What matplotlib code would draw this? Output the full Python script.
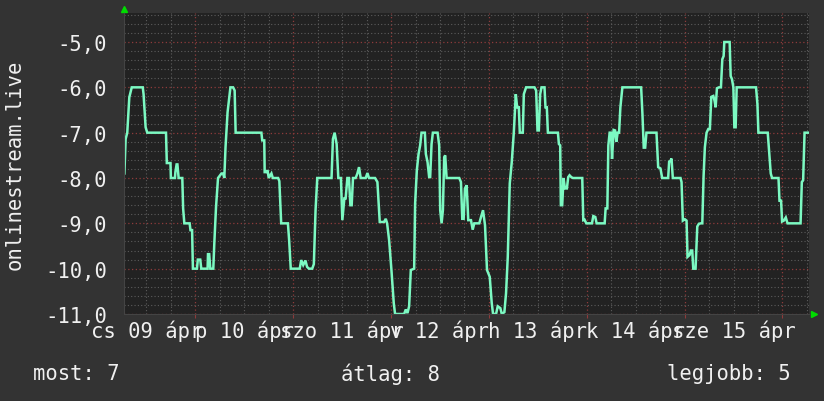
import matplotlib
matplotlib.use("Agg")
import matplotlib.pyplot as plt
from matplotlib.ticker import MultipleLocator
import matplotlib.transforms as mtransforms

# idő: órák 04.09 00:00 óta, érték
hours = [
    6.6, 6.9, 7.3, 7.8, 8.4, 11.1, 11.3, 11.8, 12.2, 16.8, 17.0, 17.9, 18.0, 19.0,
    19.1, 19.4, 19.6, 19.9, 20.8, 21.0, 21.3, 22.6, 22.8, 23.2, 23.4, 24.4, 24.6,
    25.2, 25.45, 27.0, 27.1, 27.4, 27.66, 28.4, 28.65, 29.07, 29.56, 30.4, 30.8,
    31.1, 31.4, 31.9, 32.6, 33.25, 33.64, 33.88,
    40.2, 40.4, 40.9, 41.0, 41.4, 41.7, 42.0, 42.66, 43.0, 44.3, 44.6, 45.05, 46.7,
    47.0, 47.4, 49.6, 49.96, 50.45, 51.0, 51.4, 51.84, 52.66, 53.06, 53.48, 53.9,
    57.4, 57.74, 58.16, 58.65, 59.06, 59.7, 60.05, 60.54, 60.86, 61.28, 61.67,
    62.02, 62.34, 62.66, 63.32, 63.74, 64.14, 64.55, 65.78, 66.2, 66.59, 68.07,
    68.65, 69.22, 70.28, 70.7, 71.03, 71.52, 72.09, 72.66, 72.98,
    75.2, 75.61, 76.03, 76.43, 76.84, 77.66, 77.9, 78.32, 78.74, 79.13, 79.47,
    80.29, 80.53, 80.95, 81.34, 81.59, 81.93, 82.25, 83.41, 83.8, 84.05, 84.39,
    84.71, 85.03, 85.28, 85.62, 88.72, 89.14, 89.46, 89.8, 90.12, 90.54, 90.93,
    91.6, 92.02, 92.41, 93.64, 94.06, 94.55, 95.04, 95.53, 96.2, 96.69, 97.01,
    97.75, 98.16, 98.8, 99.15, 99.79, 100.2, 100.62, 101.11, 101.6, 102.1, 102.59,
    102.91, 103.33, 103.57, 104.31, 104.56, 105.12,
    107.17, 107.58, 107.91, 108.24, 108.57, 108.9, 109.63, 109.87, 110.2, 110.46,
    112.92, 113.16, 113.48, 113.64, 113.97, 114.3, 114.63, 115.12, 115.45, 115.77,
    116.19, 116.6, 118.89, 119.14, 119.46, 119.88, 121.27, 121.6, 122.09, 122.41,
    124.38, 124.62, 125.04, 125.29, 125.61, 125.95, 126.19, 126.59, 126.93, 127.25,
    127.57, 127.92, 128.24, 128.73, 133.33, 133.65, 133.97, 134.32, 134.63, 137.09,
    137.51, 138.07, 138.49,
    139.96, 140.2, 140.53, 140.78, 141.1, 142.99, 143.24, 143.56, 144.05, 144.47,
    144.71, 145.2, 145.52, 145.86, 146.11, 146.68, 147.1, 147.49, 147.98, 148.33,
    148.65, 148.96, 149.38, 149.8, 150.19, 150.54, 151.03, 151.35, 151.6, 151.92,
    152.41, 152.9, 153.24, 153.56, 153.73, 155.04, 155.29, 155.61, 155.95, 156.19,
    156.51, 156.76, 161.51, 161.85, 162.09, 164.38, 164.7, 165.12, 165.44, 167.02,
    167.26, 167.65, 167.9, 168.32, 168.81, 169.23, 172.43, 172.74, 173.06, 173.41,
    174.54,
]
values = [
    -7.9, -7.14, -7.0, -6.22, -6.0, -6.0, -6.15, -6.88, -7.0, -7.0, -7.67, -7.67, -8.0, -8.0,
    -7.87, -7.7, -7.7, -8.0, -8.0, -8.67, -9.0, -9.0, -9.15, -9.15, -10.0, -10.0, -9.8,
    -9.8, -10.0, -10.0, -9.68, -9.68, -10.0, -10.0, -9.44, -8.64, -8.0, -7.9, -7.9,
    -8.0, -7.32, -6.55, -6.0, -6.0, -6.07, -7.0,
    -7.0, -7.17, -7.17, -7.87, -7.87, -7.83, -8.0, -7.9, -8.0, -8.0, -8.07, -9.0, -9.0,
    -9.37, -10.0, -10.0, -9.81, -9.92, -9.82, -9.96, -10.0, -10.0, -9.9, -8.71, -8.0,
    -8.0, -7.14, -7.0, -7.25, -8.0, -8.0, -8.93, -8.45, -8.45, -8.0, -8.0,
    -8.6, -8.6, -8.0, -8.0, -7.9, -7.76, -8.0, -8.0, -7.89, -8.0, -8.0,
    -8.09, -8.97, -8.97, -8.9, -9.0, -9.37, -10.03, -10.76, -11.0,
    -11.0, -10.9, -10.98, -10.83, -10.03, -10.0, -8.56, -7.83, -7.47, -7.28, -7.0,
    -7.0, -7.47, -7.65, -7.98, -7.98, -7.25, -7.0, -7.0, -7.28, -8.71, -9.0,
    -8.71, -7.54, -7.5, -8.0, -8.0, -8.09, -8.9, -8.9, -8.23, -8.16, -8.93,
    -8.93, -9.14, -9.0, -9.0, -8.86, -8.71, -9.04, -10.03, -10.18, -10.76, -11.0,
    -11.0, -10.83, -10.87, -11.0, -10.96, -10.54, -9.74, -8.12, -7.65, -7.0, -6.15,
    -6.44, -6.44, -7.0, -7.0, -6.15, -6.0,
    -6.0, -6.07, -6.95, -6.95, -6.15, -6.0, -6.0, -6.44, -6.44, -7.0,
    -7.0, -7.25, -7.28, -8.6, -8.6, -8.0, -8.23, -8.23, -7.98, -7.94,
    -7.98, -8.0, -8.0, -8.93, -8.92, -9.0, -9.0, -8.84, -8.86, -9.0,
    -9.0, -8.67, -8.67, -7.28, -7.0, -7.0, -7.58, -6.94, -6.95, -7.2,
    -7.0, -7.0, -6.44, -6.0, -6.0, -6.59, -7.33, -7.33, -7.0, -7.0,
    -7.76, -7.79, -8.0,
    -8.0, -7.64, -7.62, -7.57, -8.0, -8.0, -8.09, -8.94, -8.91, -8.94,
    -9.74, -9.7, -9.6, -9.6, -10.0, -10.0, -9.07, -9.01, -9.0, -9.0,
    -7.95, -7.32, -7.0, -6.92, -6.92, -6.21, -6.19, -6.3, -6.44, -6.02,
    -6.0, -6.0, -5.38, -5.31, -5.0, -5.0, -5.75, -5.82, -6.0, -6.88,
    -6.88, -6.0, -6.0, -6.37, -7.0, -7.0, -7.4, -7.9, -8.0, -8.0,
    -8.5, -8.5, -8.96, -8.94, -8.87, -9.0, -9.0, -8.09, -8.05, -7.0,
    -7.0,
]

day_noons = [12, 36, 60, 84, 108, 132, 156]
day_labels = ["cs 09 ápr", "p 10 ápr", "szo 11 ápr", "v 12 ápr",
              "h 13 ápr", "k 14 ápr", "sze 15 ápr"]
y_ticks = [-11, -10, -9, -8, -7, -6, -5]
y_labels = ["-11,0", "-10,0", "-9,0", "-8,0", "-7,0", "-6,0", "-5,0"]

BACK = "#333333"
CANVAS = "#222222"
FONT = "#f0f0f0"
LINE = "#7cf9c2"
MONO = "DejaVu Sans Mono"
FS = 14.8

fig = plt.figure(figsize=(8.24, 4.02), dpi=100, facecolor=BACK)
ax = fig.add_axes([124 / 824, 87 / 402, 685 / 824, 301 / 402])
ax.set_facecolor(CANVAS)

ax.set_xlim(6.5, 174.5)
ax.set_ylim(-11, -4.36)

ax.xaxis.set_major_locator(MultipleLocator(24))
ax.xaxis.set_minor_locator(MultipleLocator(6))
ax.yaxis.set_major_locator(MultipleLocator(1))
ax.yaxis.set_minor_locator(MultipleLocator(0.2))

ax.grid(which="minor", color="#5c5c5c", linestyle=(0, (1, 2)), linewidth=0.8)
ax.grid(which="major", color="#8e3b3b", linestyle=(0, (1, 2)), linewidth=0.9)
ax.set_axisbelow(True)

ax.plot(hours, values, color=LINE, linewidth=1.8, solid_joinstyle="miter")

ax.set_yticks(y_ticks)
ax.set_yticklabels(y_labels, fontfamily=MONO, fontsize=FS, color=FONT)
ax.set_xticklabels([])
ax.tick_params(axis="y", which="both", length=0, pad=12)
ax.tick_params(axis="x", which="major", length=3, color="#8e3b3b", direction="out")
ax.tick_params(axis="x", which="minor", length=0)

trans = mtransforms.blended_transform_factory(ax.transData, ax.transAxes)
for h, lab in zip(day_noons, day_labels):
    ax.text(h, -0.055, lab, transform=trans, ha="center", va="center",
            fontfamily=MONO, fontsize=FS, color=FONT, clip_on=False)

for s in ax.spines.values():
    s.set_visible(False)
ax.spines["left"].set_visible(True)
ax.spines["bottom"].set_visible(True)
ax.spines["left"].set_color("#444444")
ax.spines["bottom"].set_color("#444444")

# zöld nyilak
ax.plot([0], [1.013], marker="^", color="#00dd00", markersize=4,
        transform=ax.transAxes, clip_on=False)
ax.plot([1.008], [0], marker=">", color="#00dd00", markersize=4,
        transform=ax.transAxes, clip_on=False)

fig.text(0.018, 0.59, "onlinestream.live", rotation=90, ha="center", va="center",
         fontfamily=MONO, fontsize=FS, color=FONT)

fig.text(33 / 824, 0.07, "most: 7", ha="left", va="center",
         fontfamily=MONO, fontsize=FS, color=FONT)
fig.text(341 / 824, 0.07, "átlag: 8", ha="left", va="center",
         fontfamily=MONO, fontsize=FS, color=FONT)
fig.text(791 / 824, 0.07, "legjobb: 5", ha="right", va="center",
         fontfamily=MONO, fontsize=FS, color=FONT)

fig.savefig("out.png", dpi=100, facecolor=BACK)
